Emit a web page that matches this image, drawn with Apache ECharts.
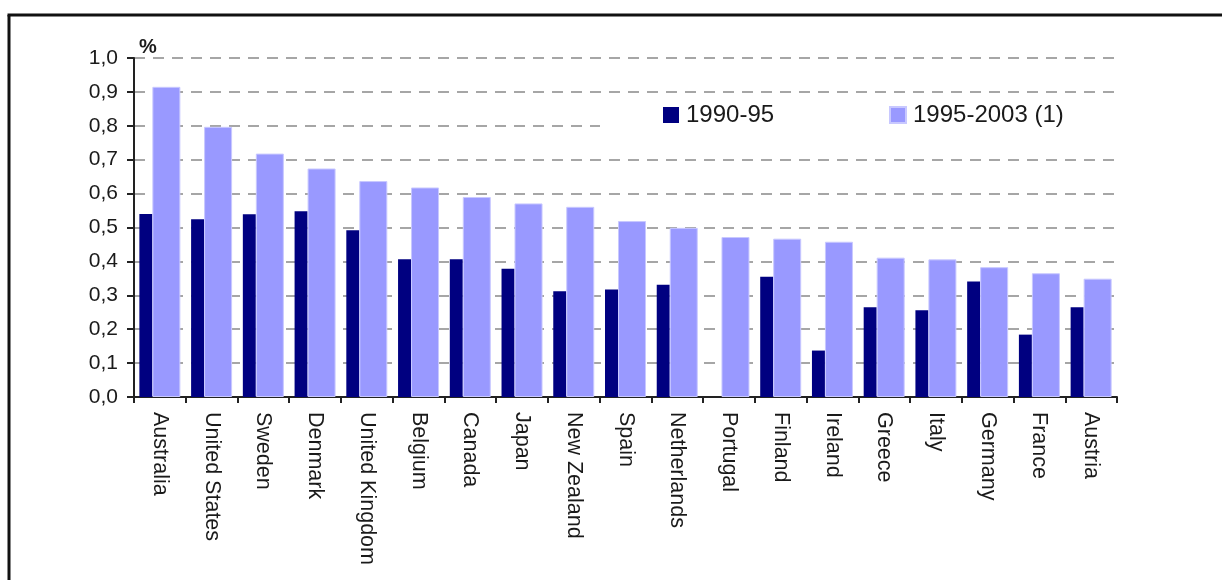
<!DOCTYPE html>
<html>
<head>
<meta charset="utf-8">
<script src="https://cdn.jsdelivr.net/npm/echarts@6/dist/echarts.min.js"></script>
<style>
html,body{margin:0;padding:0;background:#fff;}
#chart{width:1222px;height:580px;}
</style>
</head>
<body>
<div id="chart"></div>
<script>
const categories = ['Australia','United States','Sweden','Denmark','United Kingdom','Belgium','Canada','Japan','New Zealand','Spain','Netherlands','Portugal','Finland','Ireland','Greece','Italy','Germany','France','Austria'];
const series1990 = [0.54,0.524,0.539,0.548,0.492,0.406,0.406,0.378,0.312,0.317,0.331,null,0.355,0.137,0.265,0.256,0.341,0.184,0.265];
const series1995 = [0.915,0.797,0.718,0.674,0.637,0.618,0.590,0.571,0.561,0.519,0.499,0.472,0.467,0.458,0.411,0.406,0.383,0.365,0.349];
const seriesNames = ['1990-95','1995-2003 (1)'];
const yTicks = {min:0, max:1, interval:0.1};

const FONT = 'Liberation Sans, Arial, sans-serif';
const chart = echarts.init(document.getElementById('chart'), null, {renderer:'canvas'});
chart.setOption({
  animation:false,
  backgroundColor:'#ffffff',
  grid:{left:134, right:105, top:58, bottom:183, containLabel:false},
  legend:[
    {data:[seriesNames[0]], left:663, top:103, padding:0, itemWidth:16, itemHeight:16, itemGap:0,
     icon:'rect', textStyle:{fontFamily:FONT, fontSize:24, color:'#1a1a1a', padding:[0,0,0,2]}},
    {data:[seriesNames[1]], left:889, top:103, padding:0, itemWidth:16, itemHeight:16, itemGap:0,
     icon:'rect', textStyle:{fontFamily:FONT, fontSize:24, color:'#1a1a1a', padding:[0,0,0,2]}}
  ],
  graphic:[
    {type:'rect', z:3, shape:{x:600, y:104, width:517, height:40}, style:{fill:'#ffffff'}},
    {type:'text', left:139, top:37, z:5, style:{text:'%', font:'bold 20px ' + FONT, fill:'#1a1a1a'}},
    {type:'line', z:10, shape:{x1:9, y1:15, x2:9, y2:580}, style:{stroke:'#111', lineWidth:3}},
    {type:'line', z:10, shape:{x1:7.5, y1:15, x2:1222, y2:15}, style:{stroke:'#111', lineWidth:3}}
  ],
  xAxis:{
    type:'category',
    data:categories,
    boundaryGap:true,
    axisLine:{lineStyle:{color:'#222', width:2}},
    axisTick:{show:true, alignWithLabel:false, length:6, lineStyle:{color:'#222', width:2}},
    axisLabel:{interval:0, rotate:-90, margin:15, fontFamily:FONT, fontSize:21.5, color:'#1a1a1a'},
    splitLine:{show:false}
  },
  yAxis:{
    type:'value',
    min:yTicks.min, max:yTicks.max, interval:yTicks.interval,
    axisLine:{show:true, lineStyle:{color:'#222', width:2}},
    axisTick:{show:true, length:7, lineStyle:{color:'#222', width:2}},
    axisLabel:{margin:16, fontFamily:FONT, fontSize:21, color:'#1a1a1a',
      formatter:function(v){return v.toFixed(1).replace('.', ',');}},
    splitLine:{show:true, lineStyle:{color:'#a6a6a6', width:2, type:[11,8]}}
  },
  series:[
    {name:seriesNames[0], type:'bar', data:series1990, barWidth:13, barGap:'0%',
     itemStyle:{color:'#000080'}},
    {name:seriesNames[1], type:'bar', data:series1995, barWidth:28, barGap:'0%',
     itemStyle:{color:'#9999ff', borderColor:'#c8c8ff', borderWidth:1}}
  ]
});
</script>
</body>
</html>
